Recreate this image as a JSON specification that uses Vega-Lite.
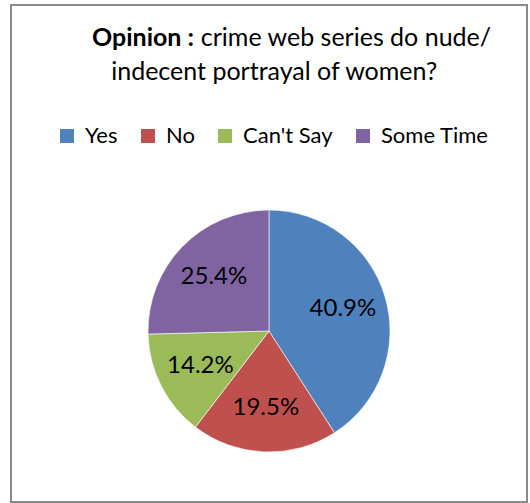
{
  "$schema": "https://vega.github.io/schema/vega-lite/v6.json",
  "width": 530,
  "height": 503,
  "autosize": {"type": "fit", "contains": "padding"},
  "padding": {"left": 11, "right": 3, "top": 5, "bottom": 1},
  "background": "white",
  "view": {"stroke": "#8a8a8a", "strokeWidth": 2, "fill": "white"},
  "config": {
    "view": {"stroke": "#8a8a8a", "strokeWidth": 2},
    "font": "Lato"
  },
  "title": {
    "text": "Opinion :",
    "subtitle": ["\u200b\u00a0\u00a0\u00a0\u00a0\u00a0\u00a0\u00a0\u00a0\u00a0\u00a0\u00a0\u00a0\u00a0\u00a0\u00a0\u00a0\u00a0crime web series do nude/", "\u200b\u00a0\u00a0\u00a0indecent portrayal of women?"],
    "anchor": "start",
    "frame": "group",
    "dx": 81,
    "offset": -80,
    "font": "Lato",
    "fontSize": 25,
    "fontWeight": "bold",
    "color": "#000000",
    "subtitleFont": "Lato",
    "subtitleFontSize": 25,
    "subtitleFontWeight": "normal",
    "subtitleColor": "#000000",
    "subtitlePadding": -25,
    "subtitleLineHeight": 34
  },
  "data": {
    "values": [
      {"answer": "Yes", "pct": 40.9, "n": 1},
      {"answer": "No", "pct": 19.5, "n": 2},
      {"answer": "Can't Say", "pct": 14.2, "n": 3},
      {"answer": "Some Time", "pct": 25.4, "n": 4}
    ]
  },
  "transform": [{"calculate": "format(datum.pct, '.1f') + '%'", "as": "label"}],
  "encoding": {
    "theta": {"field": "pct", "type": "quantitative", "stack": true},
    "order": {"field": "n", "type": "quantitative"}
  },
  "layer": [
    {
      "mark": {"type": "arc", "outerRadius": 121, "y": {"expr": "height*0.656"}, "stroke": "white", "strokeWidth": 0.6},
      "encoding": {
        "color": {
          "field": "answer",
          "type": "nominal",
          "scale": {"domain": ["Yes", "No", "Can't Say", "Some Time"], "range": ["#4F81BD", "#C0504D", "#9BBB59", "#8064A2"]},
          "legend": {
            "title": null,
            "orient": "none",
            "direction": "horizontal",
            "legendX": 45,
            "legendY": 120,
            "symbolType": "square",
            "symbolSize": 196,
            "symbolStrokeWidth": 0,
            "labelFont": "Lato",
            "labelFontSize": 22,
            "labelColor": "#000000",
            "labelOffset": 7,
            "columnPadding": 19
          }
        }
      }
    },
    {
      "mark": {"type": "text", "radius": 77, "y": {"expr": "height*0.656"}, "fontSize": 24, "font": "Lato", "color": "#000000", "baseline": "middle", "align": "center"},
      "encoding": {
        "text": {"field": "label", "type": "nominal"}
      }
    }
  ]
}
